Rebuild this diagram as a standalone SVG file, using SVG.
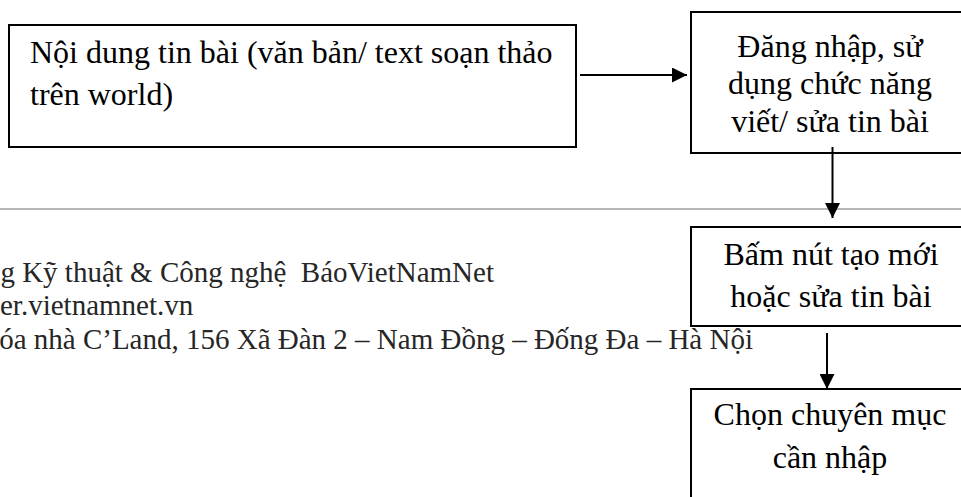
<svg xmlns="http://www.w3.org/2000/svg" width="961" height="497" viewBox="0 0 961 497">
<style>
.box{fill:#fff;stroke:#000;stroke-width:2}
.t{font-family:"Liberation Serif","Times New Roman",serif;font-size:32px;fill:#000}
.c{text-anchor:middle}
.f{font-family:"Liberation Serif","Times New Roman",serif;font-size:29px;fill:#262626}
.conn{stroke:#000;stroke-width:2;fill:none}
</style>
<defs>
<marker id="ah" viewBox="0 0 10 10" refX="10" refY="5" markerWidth="7.5" markerHeight="7.5" markerUnits="strokeWidth" orient="auto">
<path d="M0,0 L10,5 L0,10 Z" fill="#000"/>
</marker>
</defs>
<rect width="961" height="497" fill="#fff"/>
<g id="footer">
<line x1="0" y1="209" x2="961" y2="209" stroke="#a0a0a0" stroke-width="1.5"/>
<text class="f" x="494" y="282" text-anchor="end" xml:space="preserve">g Kỹ thuật &amp; Công nghệ  BáoVietNamNet</text>
<text class="f" x="0" y="315">er.vietnamnet.vn</text>
<text class="f" x="753" y="349" text-anchor="end">óa nhà C’Land, 156 Xã Đàn 2 – Nam Đồng – Đống Đa – Hà Nội</text>
</g>
<g id="n1">
<rect class="box" x="9" y="25" width="567" height="122"/>
<text class="t" x="30" y="63">Nội dung tin bài (văn bản/ text soạn thảo</text>
<text class="t" x="30" y="105">trên world)</text>
</g>
<g id="n2">
<rect class="box" x="691" y="12" width="290" height="141"/>
<text class="t c" x="830" y="57">Đăng nhập, sử</text>
<text class="t c" x="830" y="94">dụng chức năng</text>
<text class="t c" x="830" y="132">viết/ sửa tin bài</text>
</g>
<g id="n3">
<rect class="box" x="691" y="227" width="290" height="99"/>
<text class="t c" x="831" y="265">Bấm nút tạo mới</text>
<text class="t c" x="831" y="307">hoặc sửa tin bài</text>
</g>
<g id="n4">
<rect class="box" x="691" y="389" width="290" height="130"/>
<text class="t c" x="830" y="425">Chọn chuyên mục</text>
<text class="t c" x="830" y="468">cần nhập</text>
</g>
<g id="connectors">
<line class="conn" x1="580" y1="75" x2="687" y2="75" marker-end="url(#ah)"/>
<line class="conn" x1="832.5" y1="147" x2="832.5" y2="218" marker-end="url(#ah)"/>
<line class="conn" x1="827" y1="333" x2="827" y2="389" marker-end="url(#ah)"/>
</g>
</svg>
